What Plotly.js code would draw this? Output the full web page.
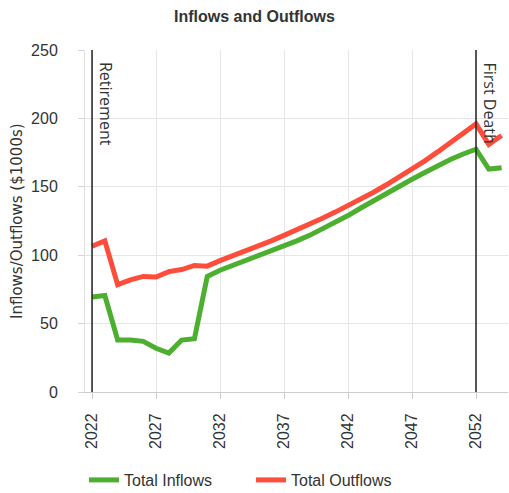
<!DOCTYPE html>
<html>
<head>
<meta charset="utf-8">
<script src="https://cdn.plot.ly/plotly-3.0.1.min.js"></script>
<style>html,body{margin:0;padding:0;background:#fff;}#chart{width:509px;height:493px;}</style>
</head>
<body>
<div id="chart"></div>
<script>
const years = [2022,2023,2024,2025,2026,2027,2028,2029,2030,2031,2032,2033,2034,2035,2036,2037,2038,2039,2040,2041,2042,2043,2044,2045,2046,2047,2048,2049,2050,2051,2052,2053,2054];
const totalInflows = [69.5,70.5,38,38,37,32,28.5,38,39,84.5,89,92.5,96,99.5,103,106.5,110.5,114.5,119,124,129,134.5,140,145.5,150.5,155.5,160.5,165.5,170,174,177.5,163,164];
const totalOutflows = [106.5,110.5,78.5,82,84.5,84,88,89.5,92.5,92,96,99.5,103,106.5,110.5,114.5,118.5,122.5,127,131.5,136,141,146,151.5,157,163,169,175.5,182,189,196,181,187.5];
const xTicks = [2022,2027,2032,2037,2042,2047,2052];
const yTicks = [0,50,100,150,200,250];
const events = [{year: 2022, label: 'Retirement'}, {year: 2052, label: 'First Death'}];

const textColor = '#333333';
const tickFont = {family: 'Liberation Sans, Arial, sans-serif', size: 16, color: '#333333'};

const traces = [
  {x: years, y: totalInflows, name: 'Total Inflows', type: 'scatter', mode: 'lines',
   line: {color: '#4caf2f', width: 5}},
  {x: years, y: totalOutflows, name: 'Total Outflows', type: 'scatter', mode: 'lines',
   line: {color: '#ff4d3c', width: 5}}
];

const layout = {
  width: 509, height: 493,
  margin: {l: 85, r: 1, t: 50, b: 101},
  paper_bgcolor: '#ffffff', plot_bgcolor: '#ffffff',
  title: {text: 'Inflows and Outflows', x: 0.5, xanchor: 'center', y: 1 - 16/493, yanchor: 'middle', yref: 'container',
          font: {family: 'Liberation Sans, Arial, sans-serif', size: 16, color: textColor, weight: 'bold'}},
  xaxis: {range: [2021.45, 2054.5], tickmode: 'array', tickvals: xTicks, ticktext: xTicks.map(String),
          tickangle: -90, showgrid: true, gridcolor: '#e6e6e6', gridwidth: 1,
          showline: true, linecolor: '#cccccc', linewidth: 1, ticks: 'outside', ticklen: 6, tickcolor: '#cccccc',
          ticklabelstandoff: 8, zeroline: false, tickfont: tickFont, fixedrange: true},
  yaxis: {range: [0, 250], tickmode: 'array', tickvals: yTicks, ticktext: yTicks.map(String),
          showgrid: true, gridcolor: '#e6e6e6', gridwidth: 1, showline: true, linecolor: '#e0e0e0', linewidth: 1,
          ticks: 'outside', ticklen: 6, tickcolor: '#ccd6eb', ticklabelstandoff: 17, zeroline: false,
          tickfont: tickFont, fixedrange: true},
  showlegend: true,
  legend: {orientation: 'h', xref: 'container', yref: 'container', x: 84/509, xanchor: 'left', y: 1 - 480/493, yanchor: 'middle',
           entrywidth: 122, entrywidthmode: 'pixels',
           font: {family: 'Liberation Sans, Arial, sans-serif', size: 16, color: '#333333'}, bgcolor: 'rgba(0,0,0,0)'},
  shapes: events.map(e => ({type: 'line', xref: 'x', yref: 'paper', x0: e.year, x1: e.year, y0: 0, y1: 1,
                            line: {color: '#222222', width: 1.5}})),
  annotations: [
    ...events.map(e => ({x: e.year, xref: 'x', y: 1, yref: 'paper', text: e.label, showarrow: false, textangle: 90,
                         xanchor: 'left', yanchor: 'top', xshift: 1, yshift: -10,
                         font: {family: 'Open Sans, sans-serif', size: 16, color: textColor}})),
    {text: 'Inflows/Outflows ($1000s)', xref: 'paper', yref: 'paper', x: (17-85)/423, y: 0.5, xanchor: 'center', yanchor: 'middle',
     showarrow: false, textangle: -90, font: {family: 'DejaVu Sans, sans-serif', size: 15, color: textColor}}
  ]
};

Plotly.newPlot('chart', traces, layout, {displayModeBar: false, staticPlot: true});
</script>
</body>
</html>
